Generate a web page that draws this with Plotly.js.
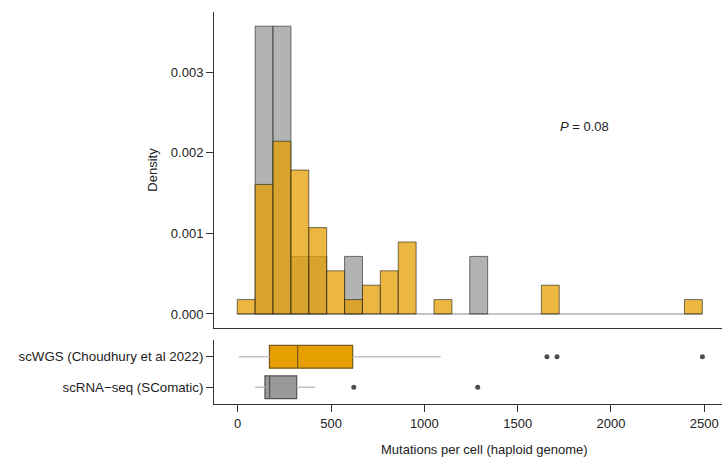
<!DOCTYPE html>
<html>
<head>
<meta charset="utf-8">
<script src="https://cdn.plot.ly/plotly-3.0.1.min.js"></script>
<style>
  html, body { margin: 0; padding: 0; background: #ffffff; }
  #chart { width: 722px; height: 460px; }
</style>
</head>
<body>
<div id="chart"></div>
<script>
// Histogram bins (width 100, centred on multiples of 100)
const binCenters = [0, 100, 200, 300, 400, 500, 600, 700, 800, 900, 1000, 1100, 1200,
                    1300, 1400, 1500, 1600, 1700, 1800, 1900, 2000, 2100, 2200, 2300, 2400, 2500];
const binWidth = 100;

// Cells per bin
const wgsCounts = [1, 9, 12, 10, 6, 3, 1, 2, 3, 5, 0, 1, 0,
                   0, 0, 0, 0, 2, 0, 0, 0, 0, 0, 0, 0, 1];
const rnaCounts = [0, 5, 5, 1, 1, 0, 1, 0, 0, 0, 0, 0, 0,
                   1, 0, 0, 0, 0, 0, 0, 0, 0, 0, 0, 0, 0];

// Box plot summaries
const groups      = ["scWGS (Choudhury et al 2022)", "scRNA\u2212seq (SComatic)"];
const boxMin      = [5, 93];
const boxQ1       = [170, 146];
const boxMedian   = [321, 171];
const boxQ3       = [616, 316];
const boxMax      = [1088, 416];
const wgsOutliers = [1657, 1711, 2490];
const rnaOutliers = [622, 1286];

const pLabel = "<i>P</i> = 0.08";

const FONT = '"Liberation Sans", Arial, Helvetica, sans-serif';
const INK = '#222222';
const FS = 13;

function density(counts) {
  const n = counts.reduce((a, b) => a + b, 0);
  return counts.map(c => c / (n * binWidth));
}
function nonEmpty(counts) {
  const xs = [], ys = [];
  const d = density(counts);
  counts.forEach((c, i) => { if (c > 0) { xs.push(binCenters[i]); ys.push(d[i]); } });
  return { xs, ys };
}

const rnaBars = nonEmpty(rnaCounts);
const wgsBars = nonEmpty(wgsCounts);

const barOutline = { color: 'rgba(25,25,25,0.75)', width: 0.8 };

const traces = [];

// zero line under empty bins
traces.push({
  type: 'scatter', mode: 'lines', xaxis: 'x2', yaxis: 'y2',
  x: [binCenters[0] - binWidth / 2, binCenters[binCenters.length - 1] + binWidth / 2],
  y: [0, 0],
  line: { color: 'rgba(40,40,40,0.7)', width: 0.8 },
  hoverinfo: 'skip', showlegend: false
});

traces.push({
  type: 'bar', xaxis: 'x2', yaxis: 'y2',
  x: rnaBars.xs, y: rnaBars.ys, width: binWidth,
  marker: { color: 'rgba(153,153,153,0.75)', line: barOutline },
  hoverinfo: 'skip', showlegend: false
});
traces.push({
  type: 'bar', xaxis: 'x2', yaxis: 'y2',
  x: wgsBars.xs, y: wgsBars.ys, width: binWidth,
  marker: { color: 'rgba(230,159,0,0.75)', line: barOutline },
  hoverinfo: 'skip', showlegend: false
});

// whiskers
groups.forEach((g, i) => {
  traces.push({
    type: 'scatter', mode: 'lines', xaxis: 'x', yaxis: 'y',
    x: [boxMin[i], boxQ1[i], null, boxQ3[i], boxMax[i]],
    y: [g, g, null, g, g],
    line: { color: '#c4c4c4', width: 1.5 },
    hoverinfo: 'skip', showlegend: false
  });
});

// boxes
const boxFill = ['#E69F00', '#999999'];
const boxLine = ['#76591a', '#555555'];
groups.forEach((g, i) => {
  traces.push({
    type: 'box', orientation: 'h', xaxis: 'x', yaxis: 'y',
    y: [g], q1: [boxQ1[i]], median: [boxMedian[i]], q3: [boxQ3[i]],
    lowerfence: [boxQ1[i]], upperfence: [boxQ3[i]],
    width: 0.75, whiskerwidth: 0,
    fillcolor: boxFill[i],
    line: { color: boxLine[i], width: 1.2 },
    boxpoints: false, hoverinfo: 'skip', showlegend: false
  });
});

// outliers
[[wgsOutliers, groups[0]], [rnaOutliers, groups[1]]].forEach(([pts, g]) => {
  traces.push({
    type: 'scatter', mode: 'markers', xaxis: 'x', yaxis: 'y',
    x: pts, y: pts.map(() => g),
    marker: { color: '#4d4d4d', size: 5 },
    hoverinfo: 'skip', showlegend: false
  });
});

const tickFont = { family: FONT, size: FS, color: INK };

const layout = {
  width: 722, height: 460,
  margin: { l: 214, r: 0, t: 12, b: 56, pad: 0 },
  paper_bgcolor: '#ffffff', plot_bgcolor: 'rgba(0,0,0,0)',
  font: { family: FONT, size: FS, color: INK },
  barmode: 'overlay', bargap: 0,
  showlegend: false,
  xaxis: {
    domain: [0, 1], anchor: 'y', range: [-127, 2595],
    tickvals: [0, 500, 1000, 1500, 2000, 2500],
    ticks: 'outside', ticklen: 7, tickwidth: 1, tickcolor: '#333333',
    showline: true, linecolor: '#333333', linewidth: 1,
    showgrid: false, zeroline: false,
    tickfont: tickFont
  },
  yaxis: {
    domain: [0, 0.1633], anchor: 'x', type: 'category',
    categoryorder: 'array', categoryarray: [groups[1], groups[0]],
    range: [-0.55, 1.55],
    ticks: 'outside', ticklen: 7, tickwidth: 1, tickcolor: '#333333',
    showline: true, linecolor: '#333333', linewidth: 1,
    showgrid: false, zeroline: false,
    tickfont: { family: FONT, size: 13.3, color: INK }
  },
  xaxis2: {
    domain: [0, 1], anchor: 'y2', range: [-180, 2660],
    showticklabels: false, ticks: '',
    showline: true, linecolor: '#333333', linewidth: 1.5,
    showgrid: false, zeroline: false
  },
  yaxis2: {
    domain: [0.1939, 1], anchor: 'x2', range: [-0.000174, 0.003747],
    tickvals: [0, 0.001, 0.002, 0.003], tickformat: '.3f',
    ticks: 'outside', ticklen: 7, tickwidth: 1, tickcolor: '#333333',
    showline: true, linecolor: '#333333', linewidth: 1,
    showgrid: false, zeroline: false,
    tickfont: tickFont,
    title: { text: 'Density', standoff: 10, font: tickFont }
  },
  annotations: [
    {
      xref: 'x2', yref: 'y2', x: 1889, y: 0.00233,
      text: pLabel, showarrow: false,
      xanchor: 'center', yanchor: 'middle',
      font: tickFont
    },
    {
      xref: 'paper', yref: 'paper', x: 0.5315, y: -0.1173,
      text: 'Mutations per cell (haploid genome)', showarrow: false,
      xanchor: 'center', yanchor: 'middle',
      font: tickFont
    }
  ]
};

Plotly.newPlot('chart', traces, layout, { displayModeBar: false, staticPlot: true });
</script>
</body>
</html>
